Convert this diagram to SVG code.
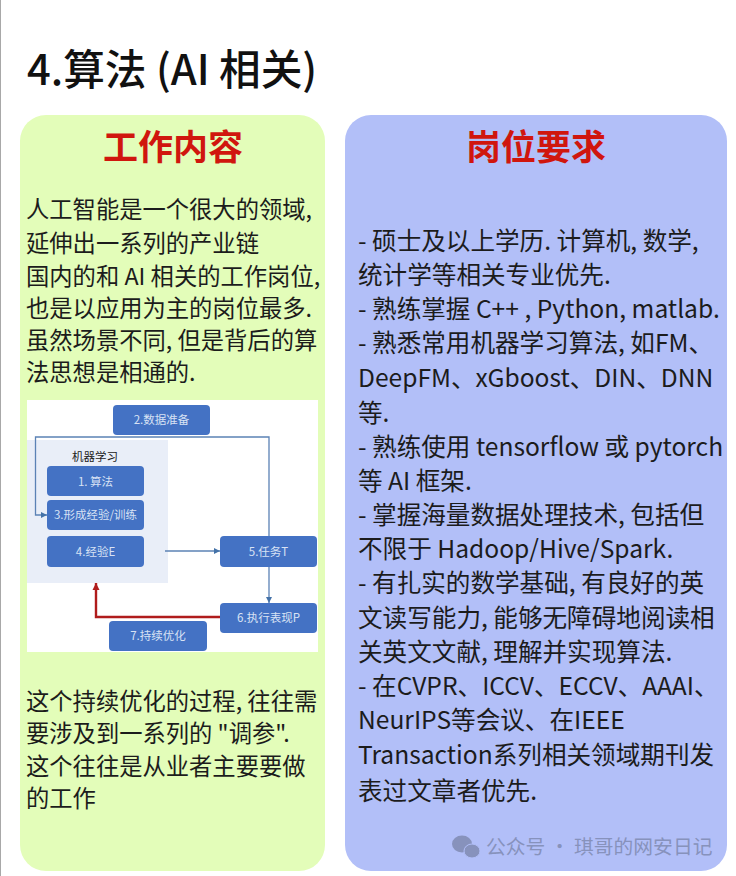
<svg xmlns="http://www.w3.org/2000/svg" width="736" height="876" viewBox="0 0 736 876">
<style>
text{font-family:"Noto Sans CJK SC","Noto Sans",sans-serif}
.b{font-size:23.3px;fill:#1c1c1c}
.r{font-size:24.6px;fill:#1c1c1c}
.h{font-size:35px;font-weight:700;fill:#d0160e;text-anchor:middle}
.n{fill:#4472c4}
.l{font-size:11.5px;fill:#d8e2f4;text-anchor:middle}
.c{fill:none;stroke:#5b82b5;stroke-width:1.3}
</style>
<defs>
<marker id="a" markerWidth="7" markerHeight="7" refX="6" refY="3" orient="auto" markerUnits="userSpaceOnUse"><path d="M0 0L6 3L0 6z" fill="#4472a8"/></marker>
<marker id="r" markerWidth="8" markerHeight="8" refX="7" refY="4" orient="auto" markerUnits="userSpaceOnUse"><path d="M0 0.5L7 4L0 7.5z" fill="#b01c1c"/></marker>
</defs>
<rect width="736" height="876" fill="#fff"/>
<rect x="0" y="0" width="1" height="876" fill="#a8a8a8"/>
<text id="title" x="27" y="85" style="font-size:41.700px;font-weight:500;fill:#111">4.算法 (AI 相关)</text>
<g id="panel-left"><rect x="20" y="115" width="305" height="756" rx="26" fill="#e3fdb9"/>
<text class="h" x="173" y="160">工作内容</text>
<text class="b"><tspan x="26" y="218">人工智能是一个很大的领域,</tspan><tspan x="26" y="252">延伸出一系列的产业链</tspan><tspan x="26" y="285">国内的和 AI 相关的工作岗位,</tspan><tspan x="26" y="317">也是以应用为主的岗位最多.</tspan><tspan x="26" y="349">虽然场景不同, 但是背后的算</tspan><tspan x="26" y="381">法思想是相通的.</tspan></text>
<text class="b"><tspan x="26" y="710">这个持续优化的过程, 往往需</tspan><tspan x="26" y="742">要涉及到一系列的 "调参".</tspan><tspan x="26" y="775">这个往往是从业者主要要做</tspan><tspan x="26" y="807">的工作</tspan></text></g>
<g id="panel-right"><rect x="345" y="115" width="382" height="756" rx="26" fill="#b2bff8"/>
<text class="h" x="536" y="160">岗位要求</text>
<text class="r"><tspan x="358" y="250">- 硕士及以上学历. 计算机, 数学,</tspan><tspan x="358" y="284">统计学等相关专业优先.</tspan><tspan x="358" y="318">- 熟练掌握 C++ , Python, matlab.</tspan><tspan x="358" y="352">- 熟悉常用机器学习算法, 如FM、</tspan><tspan x="358" y="387">DeepFM、xGboost、DIN、DNN</tspan><tspan x="358" y="422">等.</tspan><tspan x="358" y="456">- 熟练使用 tensorflow 或 pytorch</tspan><tspan x="358" y="490">等 AI 框架.</tspan><tspan x="358" y="524">- 掌握海量数据处理技术, 包括但</tspan><tspan x="358" y="558">不限于 Hadoop/Hive/Spark.</tspan><tspan x="358" y="592">- 有扎实的数学基础, 有良好的英</tspan><tspan x="358" y="627">文读写能力, 能够无障碍地阅读相</tspan><tspan x="358" y="661">关英文文献, 理解并实现算法.</tspan><tspan x="358" y="695">- 在CVPR、ICCV、ECCV、AAAI、</tspan><tspan x="358" y="729">NeurIPS等会议、在IEEE</tspan><tspan x="358" y="764">Transaction系列相关领域期刊发</tspan><tspan x="358" y="800">表过文章者优先.</tspan></text></g>
<rect x="27" y="400" width="291" height="252" fill="#fff"/>
<rect x="27" y="440" width="141" height="143" fill="#e9eef8"/>
<text x="95" y="461" style="font-size:11.5px;fill:#222;text-anchor:middle">机器学习</text>
<g id="connectors">
<path class="c" d="M269 536V437H35.5V515H47" marker-end="url(#a)"/>
<path class="c" d="M165 551H220" marker-end="url(#a)"/>
<path class="c" d="M269 567V603" marker-end="url(#a)"/>
<path d="M220 617H96V583" fill="none" stroke="#b01c1c" stroke-width="2.4" marker-end="url(#r)"/>
</g>
<g id="n2"><rect class="n" x="113" y="405" width="97" height="30" rx="4"/><text class="l" x="161.500" y="424">2.数据准备</text></g>
<g id="n1"><rect class="n" x="47" y="466" width="97" height="30" rx="4"/><text class="l" x="95.500" y="486">1. 算法</text></g>
<g id="n3"><rect class="n" x="47" y="500" width="97" height="30" rx="4"/><text class="l" x="95.500" y="519">3.形成经验/训练</text></g>
<g id="n4"><rect class="n" x="47" y="536" width="97" height="31" rx="4"/><text class="l" x="95.500" y="556">4.经验E</text></g>
<g id="n5"><rect class="n" x="220" y="536" width="97" height="31" rx="4"/><text class="l" x="268.500" y="556">5.任务T</text></g>
<g id="n6"><rect class="n" x="220" y="603" width="97" height="30" rx="4"/><text class="l" x="268.500" y="622">6.执行表现P</text></g>
<g id="n7"><rect class="n" x="109" y="621" width="98" height="30" rx="4"/><text class="l" x="158" y="640">7.持续优化</text></g>
<g id="watermark"><ellipse cx="462" cy="844" rx="10" ry="8.500" fill="#8792bc"/><ellipse cx="472" cy="851" rx="8" ry="7" fill="#8792bc" stroke="#b2bff8"/>
<text x="486" y="854" style="font-size:19.800px;fill:#8792bc">公众号 · 琪哥的网安日记</text></g>
</svg>
